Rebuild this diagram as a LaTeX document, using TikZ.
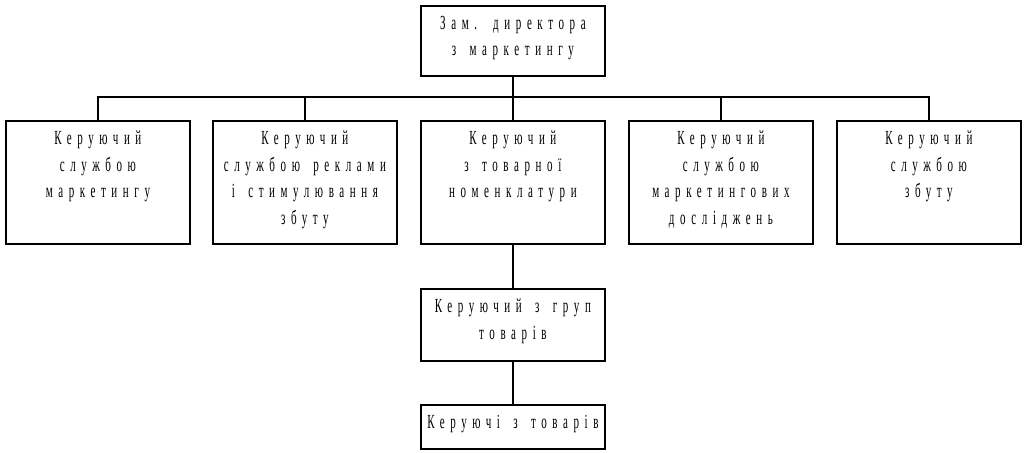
\documentclass[tikz,border=0pt]{standalone}
\usepackage{fontspec}
\setmainfont{Liberation Serif}[FakeStretch=0.55,LetterSpace=28,WordSpace=1.6]
\begin{document}
\begin{tikzpicture}[x=1pt,y=-1pt,
  box/.style={draw,line width=1.8pt,minimum width=184pt,anchor=north west,inner sep=0pt},
  txt/.style={anchor=north,align=center,font=\fontsize{20}{26.5}\selectfont,inner sep=0pt,yshift=-11pt},
  link/.style={line width=1.8pt}]
\useasboundingbox (0,0) rectangle (1024,452);
\node[box,minimum height=70pt] (top) at (420,5) {};
\node[box,minimum height=123pt] (b1) at (5,120) {};
\node[box,minimum height=123pt] (b2) at (212,120) {};
\node[box,minimum height=123pt] (b3) at (420,120) {};
\node[box,minimum height=123pt] (b4) at (628,120) {};
\node[box,minimum height=123pt] (b5) at (836,120) {};
\node[box,minimum height=72pt] (mid) at (420,288) {};
\node[box,minimum height=44pt] (bot) at (420,404) {};
\node[txt] (ttop) at (top.north) {Зам. директора\\з маркетингу};
\node[txt] (t1) at (b1.north) {Керуючий\\службою\\маркетингу};
\node[txt] (t2) at (b2.north) {Керуючий\\службою реклами\\і стимулювання\\збуту};
\node[txt] (t3) at (b3.north) {Керуючий\\з товарної\\номенклатури};
\node[txt] (t4) at (b4.north) {Керуючий\\службою\\маркетингових\\досліджень};
\node[txt] (t5) at (b5.north) {Керуючий\\службою\\збуту};
\node[txt] (tmid) at (mid.north) {Керуючий з груп\\товарів};
\node[txt] (tbot) at (bot.north) {Керуючі з товарів};
\coordinate (bus) at (512,97);
\draw[link] (top.south) -- (top.south |- bus);
\draw[link] (b1.north) |- (bus) -| (b5.north);
\draw[link] (b2.north) -- (b2.north |- bus);
\draw[link] (b3.north) -- (b3.north |- bus);
\draw[link] (b4.north) -- (b4.north |- bus);
\draw[link] (b3.south) -- (mid.north);
\draw[link] (mid.south) -- (bot.north);
\end{tikzpicture}
\end{document}
